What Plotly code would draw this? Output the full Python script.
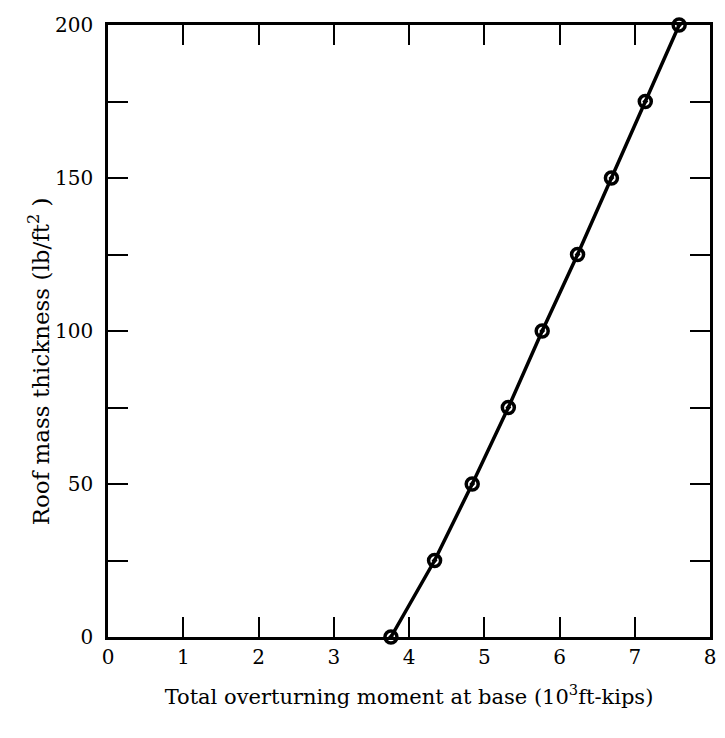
import plotly.graph_objects as go

moment = [3.76, 4.34, 4.84, 5.32, 5.77, 6.24, 6.69, 7.14, 7.59]
thickness = [0, 25, 50, 75, 100, 125, 150, 175, 200]

fig = go.Figure()
fig.add_trace(go.Scatter(
    x=moment, y=thickness, mode="lines+markers",
    line=dict(color="black", width=3.5),
    marker=dict(symbol="circle-open-dot", size=12, color="black", line=dict(width=3.5, color="black")),
    cliponaxis=False, showlegend=False,
))

font = dict(family="DejaVu Serif, Liberation Serif, serif", size=20, color="black")
tfont = dict(family="DejaVu Serif, Liberation Serif, serif", size=21, color="black")
yfont = dict(family="DejaVu Serif, Liberation Serif, serif", size=23, color="black")
fig.update_layout(
    width=725, height=738,
    margin=dict(l=108, r=9, t=25, b=101),
    paper_bgcolor="white", plot_bgcolor="white",
    font=font,
)
fig.update_xaxes(
    range=[0, 8], tickmode="linear", tick0=0, dtick=1,
    ticks="inside", ticklen=20, tickwidth=2, tickcolor="black",
    showline=True, linecolor="black", linewidth=2.5, mirror="allticks",
    showgrid=False, zeroline=False, tickfont=font,
    title=dict(text="Total overturning moment at base (10<sup>3</sup>ft-kips)", standoff=22, font=tfont),
)
fig.update_yaxes(
    range=[0, 200], tickmode="linear", tick0=0, dtick=50,
    ticks="inside", ticklen=20, tickwidth=2, tickcolor="black",
    minor=dict(ticks="inside", ticklen=20, tickwidth=2, tickcolor="black", dtick=25, tick0=0, showgrid=False),
    showline=True, linecolor="black", linewidth=2.5, mirror="allticks",
    showgrid=False, zeroline=False, tickfont=font, ticklabelstandoff=8,
)
fig.add_annotation(
    text="Roof mass thickness (lb/ft<sup>2</sup> )", textangle=-90,
    xref="paper", yref="paper", x=-0.115, y=0.45, xanchor="center", yanchor="middle",
    showarrow=False, font=yfont,
)
fig.write_html("out.html")
